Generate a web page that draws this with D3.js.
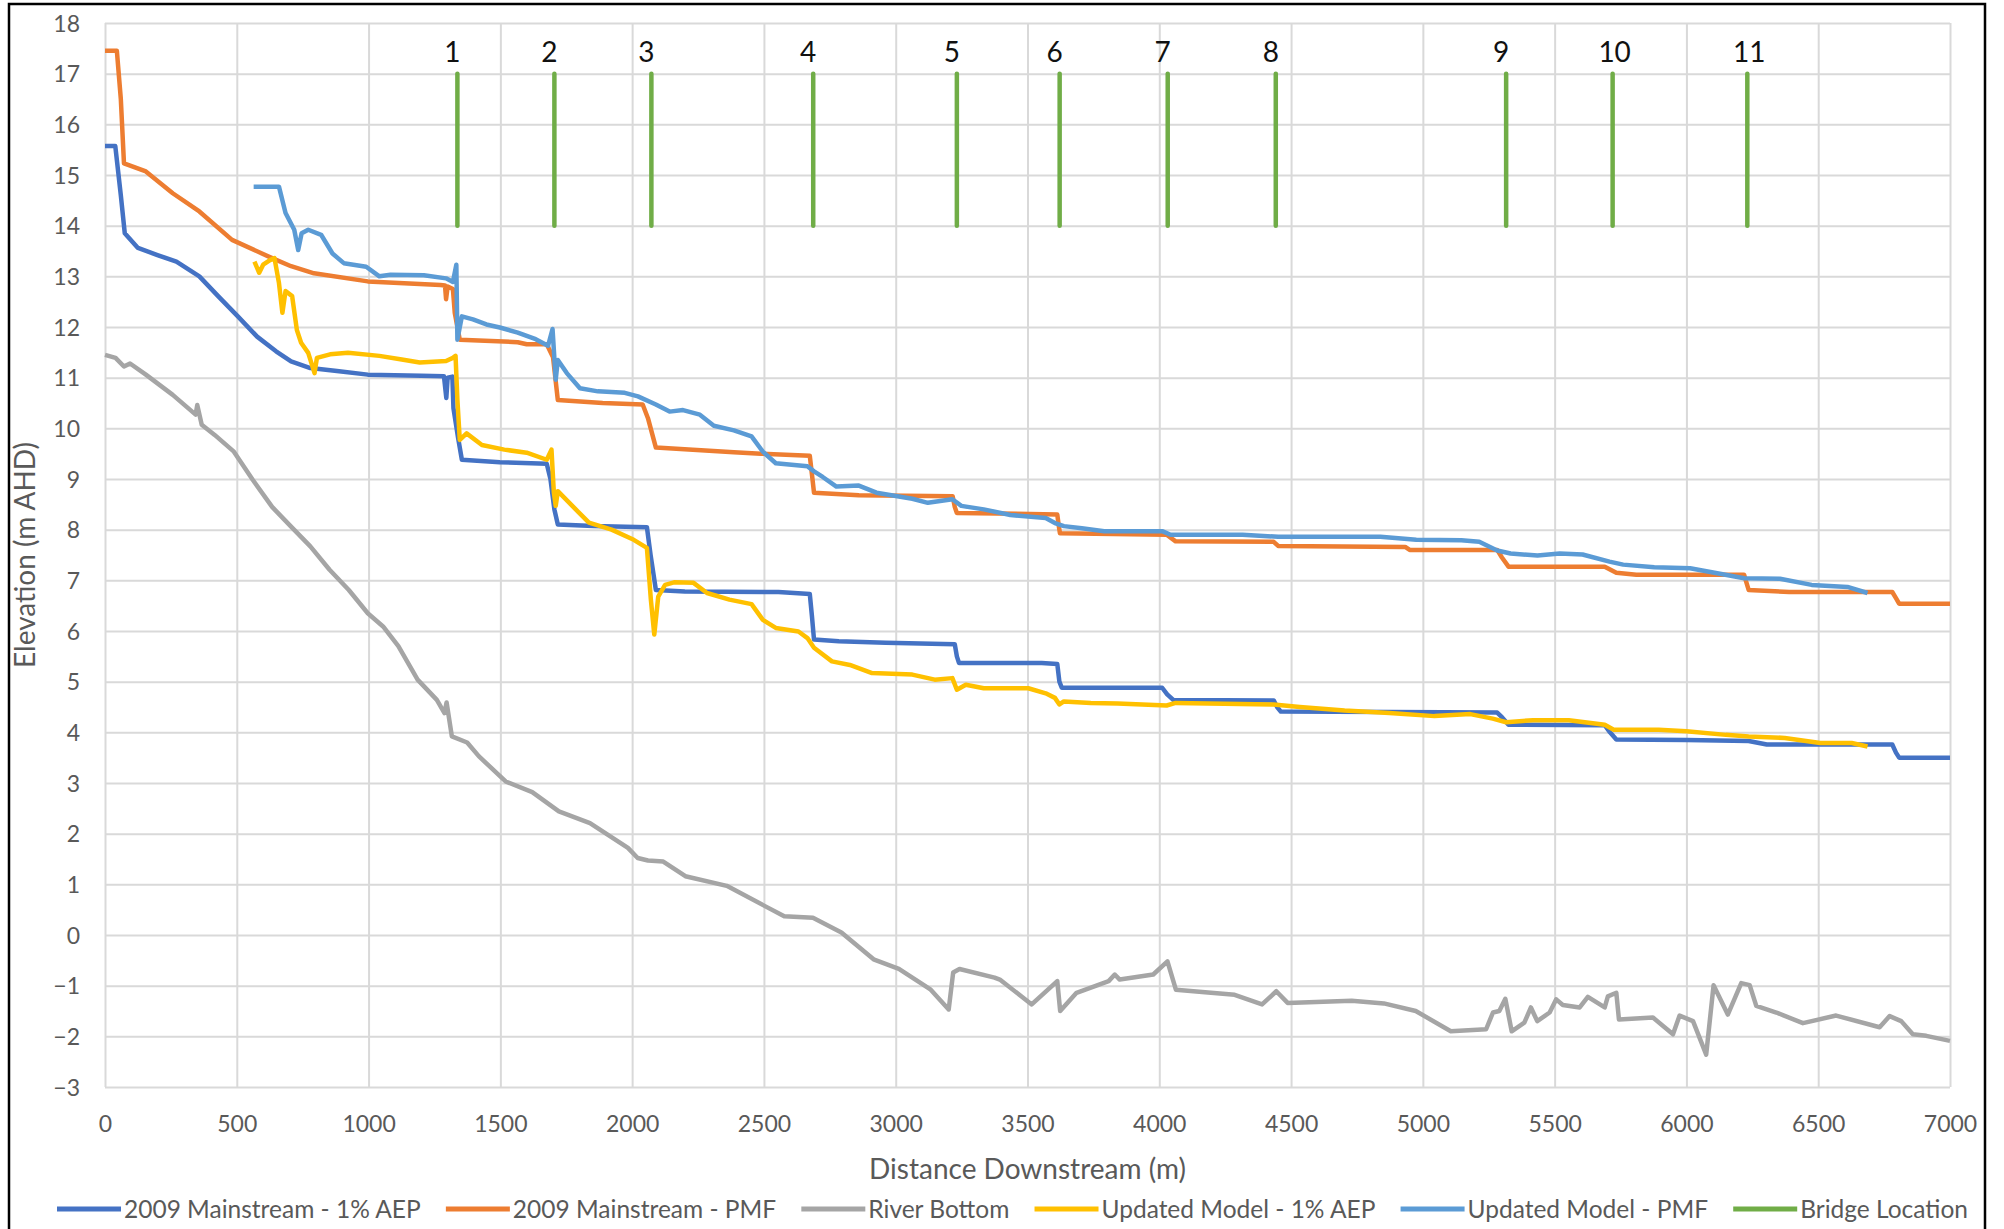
<!DOCTYPE html>
<html>
<head>
<meta charset="utf-8">
<script src="https://d3js.org/d3.v7.min.js"></script>
<style>
  body { margin: 0; background: #fff; }
  text { font-family: Lato, "Open Sans", sans-serif; }
</style>
</head>
<body>
<figure id="profile" style="margin:0"></figure>
<script>
// water surface profiles: [distance (m), elevation (m AHD)]
var aep2009 = [[0,15.57],[39,15.57],[60,14.6],[75,13.85],[125,13.56],[199,13.42],[271,13.29],[358,13.0],[431,12.6],[504,12.21],[577,11.81],[649,11.52],[706,11.32],[779,11.19],[880,11.13],[997,11.06],[1200,11.04],[1286,11.03],[1295,10.6],[1300,11.0],[1318,11.02],[1322,10.4],[1340,9.8],[1354,9.38],[1498,9.33],[1676,9.30],[1690,9.0],[1705,8.4],[1718,8.1],[1854,8.07],[2056,8.05],[2070,7.5],[2090,6.81],[2200,6.78],[2555,6.77],[2674,6.73],[2682,6.3],[2690,5.83],[2784,5.8],[2962,5.77],[3224,5.74],[3232,5.5],[3240,5.37],[3554,5.37],[3613,5.35],[3621,5.0],[3630,4.88],[4011,4.88],[4030,4.75],[4053,4.64],[4434,4.63],[4447,4.5],[4461,4.41],[5282,4.39],[5300,4.3],[5325,4.15],[5690,4.14],[5710,4.0],[5734,3.86],[6000,3.85],[6236,3.83],[6305,3.76],[6781,3.76],[6795,3.6],[6807,3.50],[7000,3.50]];

var pmf2009 = [[0,17.45],[45,17.45],[60,16.5],[72,15.23],[155,15.07],[257,14.64],[358,14.28],[482,13.72],[634,13.36],[706,13.2],[793,13.06],[997,12.9],[1273,12.83],[1290,12.82],[1294,12.55],[1300,12.8],[1320,12.75],[1327,12.28],[1346,11.75],[1566,11.70],[1600,11.66],[1676,11.66],[1700,11.4],[1718,10.56],[1888,10.50],[2040,10.47],[2060,10.2],[2090,9.62],[2386,9.53],[2488,9.50],[2674,9.46],[2682,9.1],[2690,8.73],[2860,8.68],[3216,8.66],[3224,8.45],[3232,8.33],[3613,8.30],[3618,8.1],[3623,7.93],[4028,7.90],[4062,7.77],[4434,7.76],[4451,7.68],[4933,7.66],[4950,7.60],[5282,7.60],[5300,7.45],[5325,7.27],[5690,7.27],[5734,7.15],[5810,7.11],[6219,7.11],[6228,6.95],[6236,6.81],[6390,6.77],[6781,6.77],[6795,6.65],[6807,6.54],[7000,6.54]];

var riverBottom = [[0,11.45],[40,11.39],[72,11.22],[95,11.28],[155,11.06],[257,10.66],[344,10.27],[350,10.46],[367,10.07],[416,9.87],[489,9.54],[561,8.98],[634,8.45],[706,8.06],[779,7.67],[852,7.21],[925,6.81],[997,6.35],[1055,6.09],[1113,5.70],[1186,5.04],[1259,4.64],[1288,4.38],[1296,4.59],[1316,3.92],[1374,3.8],[1418,3.53],[1520,3.03],[1621,2.82],[1722,2.44],[1840,2.21],[1984,1.72],[2021,1.52],[2060,1.47],[2118,1.45],[2202,1.16],[2359,0.97],[2504,0.57],[2577,0.37],[2686,0.34],[2794,0.05],[2916,-0.48],[3012,-0.67],[3133,-1.08],[3201,-1.47],[3218,-0.74],[3242,-0.67],[3375,-0.84],[3395,-0.88],[3516,-1.37],[3613,-0.91],[3624,-1.50],[3686,-1.14],[3808,-0.91],[3831,-0.78],[3850,-0.88],[3977,-0.78],[4031,-0.52],[4063,-1.08],[4196,-1.14],[4286,-1.18],[4390,-1.37],[4444,-1.11],[4487,-1.34],[4730,-1.30],[4852,-1.35],[4973,-1.50],[5106,-1.90],[5240,-1.86],[5266,-1.53],[5290,-1.5],[5313,-1.26],[5337,-1.9],[5385,-1.73],[5410,-1.43],[5434,-1.7],[5481,-1.53],[5506,-1.27],[5531,-1.38],[5595,-1.43],[5626,-1.22],[5690,-1.43],[5702,-1.21],[5734,-1.14],[5744,-1.67],[5873,-1.63],[5949,-1.96],[5974,-1.59],[6025,-1.70],[6075,-2.36],[6103,-0.99],[6157,-1.57],[6208,-0.95],[6240,-0.99],[6265,-1.40],[6341,-1.53],[6442,-1.74],[6568,-1.59],[6733,-1.82],[6771,-1.6],[6815,-1.70],[6859,-1.96],[6910,-1.99],[7000,-2.09]];

var aepUpdated = [[567,13.29],[585,13.07],[600,13.23],[626,13.32],[643,13.36],[660,12.87],[673,12.28],[685,12.71],[710,12.61],[728,11.94],[744,11.69],[771,11.49],[795,11.09],[804,11.39],[854,11.46],[922,11.49],[1041,11.43],[1126,11.36],[1194,11.30],[1294,11.33],[1320,11.39],[1330,11.43],[1337,10.56],[1346,9.77],[1372,9.9],[1430,9.67],[1515,9.58],[1600,9.52],[1676,9.38],[1694,9.58],[1703,8.73],[1710,8.47],[1718,8.76],[1786,8.4],[1836,8.14],[1922,8.0],[2006,7.8],[2056,7.64],[2071,6.62],[2084,5.93],[2099,6.68],[2125,6.91],[2159,6.96],[2233,6.95],[2284,6.75],[2369,6.62],[2453,6.53],[2496,6.22],[2545,6.06],[2631,5.99],[2665,5.86],[2690,5.67],[2758,5.40],[2826,5.33],[2910,5.17],[3063,5.14],[3148,5.04],[3215,5.07],[3232,4.84],[3266,4.94],[3334,4.87],[3503,4.87],[3569,4.77],[3604,4.68],[3621,4.55],[3638,4.61],[3740,4.58],[3842,4.57],[4028,4.53],[4062,4.58],[4434,4.55],[4533,4.50],[4703,4.43],[4873,4.38],[5044,4.32],[5180,4.36],[5265,4.27],[5316,4.20],[5418,4.24],[5554,4.24],[5690,4.15],[5724,4.05],[5895,4.05],[6000,4.02],[6150,3.95],[6236,3.92],[6373,3.89],[6508,3.79],[6627,3.79],[6687,3.72]];

var pmfUpdated = [[564,14.77],[660,14.77],[685,14.25],[718,13.92],[733,13.52],[746,13.85],[771,13.92],[820,13.82],[863,13.45],[906,13.26],[991,13.19],[1041,13.0],[1083,13.03],[1210,13.02],[1294,12.96],[1320,12.89],[1333,13.23],[1337,11.75],[1354,12.21],[1396,12.15],[1447,12.05],[1498,11.99],[1566,11.89],[1634,11.76],[1681,11.63],[1698,11.96],[1710,10.96],[1718,11.35],[1752,11.09],[1802,10.79],[1870,10.73],[1972,10.70],[2022,10.63],[2090,10.47],[2142,10.33],[2193,10.36],[2257,10.27],[2310,10.05],[2386,9.96],[2453,9.84],[2496,9.54],[2545,9.31],[2665,9.25],[2690,9.15],[2723,9.04],[2775,8.85],[2860,8.87],[2927,8.73],[3063,8.61],[3122,8.53],[3215,8.60],[3249,8.47],[3334,8.40],[3435,8.29],[3569,8.23],[3604,8.13],[3638,8.07],[3706,8.03],[3791,7.97],[4011,7.97],[4043,7.90],[4316,7.90],[4451,7.86],[4839,7.86],[4975,7.80],[5146,7.79],[5214,7.76],[5282,7.59],[5333,7.53],[5435,7.49],[5519,7.53],[5606,7.51],[5708,7.37],[5760,7.31],[5878,7.26],[6014,7.24],[6117,7.14],[6219,7.04],[6355,7.03],[6475,6.91],[6611,6.87],[6687,6.75]];

// bridge markers: chainage, label, and the vertical span they are drawn over
var bridgeX = [1337, 1705, 2073, 2687, 3232, 3622, 4032, 4442, 5316, 5720, 6231];
var bridgeLabels = ["1", "2", "3", "4", "5", "6", "7", "8", "9", "10", "11"];
var bridgeSpan = [14, 17];

var xTicks = [0, 500, 1000, 1500, 2000, 2500, 3000, 3500, 4000, 4500, 5000, 5500, 6000, 6500, 7000];
var yTicks = d3.range(-3, 19, 1);

var seriesNames = ["2009 Mainstream - 1% AEP", "2009 Mainstream - PMF", "River Bottom",
                   "Updated Model - 1% AEP", "Updated Model - PMF", "Bridge Location"];
var seriesColors = ["#4472C4", "#ED7D31", "#A5A5A5", "#FFC000", "#5B9BD5", "#70AD47"];
var seriesData = [aep2009, pmf2009, riverBottom, aepUpdated, pmfUpdated];

// set the dimensions and margins of the graph
var W = 2004, H = 1229;
var margin = {top: 23, right: 54, bottom: 142, left: 105},
    width = W - margin.left - margin.right,
    height = H - margin.top - margin.bottom;

var root = d3.select("figure#profile")
  .append("svg")
    .attr("width", W)
    .attr("height", H);

root.append("rect").attr("width", W).attr("height", H).attr("fill", "#fff");

// frame round the picture (bottom edge is cut off in the original)
root.append("path")
  .attr("d", "M9," + H + "V4H1985V" + H)
  .attr("fill", "none")
  .attr("stroke", "#000")
  .attr("stroke-width", 2.5);

var svg = root.append("g")
  .attr("transform", "translate(" + margin.left + "," + margin.top + ")");

var x = d3.scaleLinear().domain([0, 7000]).range([0, width]);
var y = d3.scaleLinear().domain([-3, 18]).range([height, 0]);

// grid + tick labels
var gx = svg.append("g")
  .attr("transform", "translate(0," + height + ")")
  .call(d3.axisBottom(x).tickValues(xTicks).tickSize(-height).tickPadding(29).tickFormat(d3.format("d")));
var gy = svg.append("g")
  .call(d3.axisLeft(y).tickValues(yTicks).tickSize(-width).tickPadding(25).tickFormat(d3.format("d")));

[gx, gy].forEach(function(g) {
  g.select(".domain").remove();
  g.selectAll(".tick line").attr("stroke", "#d9d9d9").attr("stroke-width", 2);
  g.selectAll(".tick text")
    .attr("fill", "#595959")
    .style("font-size", "23px");
});
gx.selectAll(".tick text").attr("dy", "0.71em");
gy.selectAll(".tick text").attr("dy", "0.35em");

// the lines
var line = d3.line()
  .x(function(d) { return x(d[0]); })
  .y(function(d) { return y(d[1]); });

seriesData.forEach(function(data, i) {
  svg.append("path")
    .datum(data)
    .attr("fill", "none")
    .attr("stroke", seriesColors[i])
    .attr("stroke-width", 4.5)
    .attr("stroke-linejoin", "round")
    .attr("d", line);
});

// bridge locations
svg.selectAll(".bridge")
  .data(bridgeX)
  .enter().append("line")
    .attr("class", "bridge")
    .attr("x1", function(d) { return x(d); })
    .attr("x2", function(d) { return x(d); })
    .attr("y1", y(bridgeSpan[0]))
    .attr("y2", y(bridgeSpan[1]))
    .attr("stroke", seriesColors[5])
    .attr("stroke-width", 4.5)
    .attr("stroke-linecap", "round");

svg.selectAll(".bridge-label")
  .data(bridgeX)
  .enter().append("text")
    .attr("class", "bridge-label")
    .attr("x", function(d, i) { return x(d) + (bridgeLabels[i].length > 1 ? 2 : -5); })
    .attr("y", y(bridgeSpan[1]) - 12)
    .attr("text-anchor", "middle")
    .style("font-size", "28px")
    .attr("fill", "#111")
    .text(function(d, i) { return bridgeLabels[i]; });

// axis titles
root.append("text")
  .attr("x", margin.left + width / 2)
  .attr("y", 1179)
  .attr("text-anchor", "middle")
  .attr("fill", "#595959")
  .style("font-size", "28px")
  .text("Distance Downstream (m)");

root.append("text")
  .attr("transform", "translate(35," + (margin.top + height / 2) + ") rotate(-90)")
  .attr("text-anchor", "middle")
  .attr("fill", "#595959")
  .style("font-size", "28px")
  .text("Elevation (m AHD)");

// legend, spread across the bottom like the original
var legend = root.append("g");
var items = legend.selectAll("g")
  .data(seriesNames)
  .enter().append("g");
items.append("line")
  .attr("x1", 0).attr("x2", 64)
  .attr("y1", 1209).attr("y2", 1209)
  .attr("stroke", function(d, i) { return seriesColors[i]; })
  .attr("stroke-width", 5);
items.append("text")
  .attr("x", 67)
  .attr("y", 1218)
  .attr("fill", "#595959")
  .style("font-size", "24.5px")
  .text(function(d) { return d; });

var widths = [];
items.each(function() { widths.push(67 + d3.select(this).select("text").node().getComputedTextLength()); });
var legLeft = 57, legRight = 1968;
var gap = (legRight - legLeft - d3.sum(widths)) / (widths.length - 1);
var pos = legLeft;
items.attr("transform", function(d, i) {
  var t = "translate(" + pos + ",0)";
  pos += widths[i] + gap;
  return t;
});
</script>
</body>
</html>
